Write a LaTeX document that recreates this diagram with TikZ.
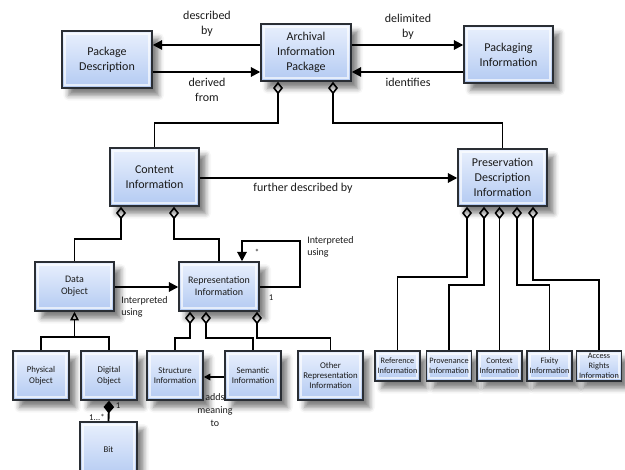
\documentclass[tikz,border=0pt]{standalone}
\usepackage{fontspec}
\setmainfont{Carlito}
\usetikzlibrary{arrows.meta,shadows.blur}

\definecolor{boxline}{HTML}{2A2E34}
\definecolor{boxtop}{HTML}{E9F0FD}
\definecolor{boxbot}{HTML}{B3CAF2}
\definecolor{txt}{HTML}{1A1A1A}

\tikzset{
  box/.style={draw=boxline, line width=1.1pt, top color=boxtop, bottom color=boxbot,
    align=center, inner sep=1pt, text=txt,
    blur shadow={shadow xshift=5pt, shadow yshift=-5.5pt, shadow blur radius=4pt, shadow opacity=50},
    path picture={\draw[white, opacity=.65, line width=1.6pt]
      ([shift={(2pt,2pt)}]path picture bounding box.south west) rectangle
      ([shift={(-2pt,-2pt)}]path picture bounding box.north east);}},
  bigtxt/.style={font=\fontsize{9}{11.25}\selectfont},
  midtxt/.style={font=\fontsize{7.5}{9}\selectfont},
  smalltxt/.style={font=\fontsize{6.6}{7.8}\selectfont},
  tinytxt/.style={font=\fontsize{6.2}{7.5}\selectfont},
  lbl/.style={text=txt, align=center, inner sep=0pt},
  conn/.style={draw=black, line width=1.4pt},
  arr/.style={conn, -{Triangle[length=7pt,width=7pt]}},
  smallarr/.style={conn, line width=1.1pt, -{Triangle[length=5pt,width=5pt]}},
  agg/.style={conn, {Diamond[open,length=9.5pt,width=7.5pt,line width=1.2pt]}-},
  comp/.style={conn, {Diamond[length=9.5pt,width=8pt]}-},
  gen/.style={conn, {Triangle[open,length=6.5pt,width=6.5pt,line width=1.1pt]}-}
}

\begin{document}
\begin{tikzpicture}[x=0.75pt,y=-0.75pt]
\useasboundingbox (0,0) rectangle (625,470);
\clip (0,0) rectangle (625,470);

% --- top row ---
\node[box,bigtxt,minimum width=67.5pt,minimum height=42.75pt] (PD) at (107,59.5) {Package\\Description};
\node[box,bigtxt,minimum width=67.5pt,minimum height=42.75pt] (AIP) at (306,52.5) {Archival\\Information\\Package};
\node[box,bigtxt,minimum width=66.75pt,minimum height=42.75pt] (PI) at (508.5,54.5) {Packaging\\Information};

% --- second row ---
\node[box,bigtxt,minimum width=66.75pt,minimum height=43.5pt] (CI) at (154.5,177) {Content\\Information};
\node[box,bigtxt,minimum width=66.75pt,minimum height=42.75pt] (PDI) at (502.5,177.5) {Preservation\\Description\\Information};

% --- third row ---
\node[box,midtxt,minimum width=59.25pt,minimum height=36.75pt] (DO) at (74.5,286.5) {Data\\Object};
\node[box,midtxt,minimum width=60pt,minimum height=36.75pt] (RI) at (219,286.5) {Representation\\Information};

% --- leaves under content information ---
\node[box,smalltxt,minimum width=42pt,minimum height=36.75pt] (PO) at (41,375.5) {Physical\\Object};
\node[box,smalltxt,minimum width=42pt,minimum height=36.75pt] (DgO) at (109,375.5) {Digital\\Object};
\node[box,smalltxt,minimum width=42pt,minimum height=36.75pt] (SI) at (175,375.5) {Structure\\Information};
\node[box,smalltxt,minimum width=42pt,minimum height=36.75pt] (SemI) at (253,375.5) {Semantic\\Information};
\node[box,smalltxt,minimum width=48.75pt,minimum height=36.75pt] (ORI) at (330.5,375.5) {Other\\Representation\\Information};
\node[box,smalltxt,minimum width=42.75pt,minimum height=42pt] (Bit) at (108.5,450) {Bit};

% --- leaves under preservation description information ---
\node[box,tinytxt,minimum width=33.75pt,minimum height=22.5pt] (Ref) at (397.5,366) {Reference\\Information};
\node[box,tinytxt,minimum width=33.75pt,minimum height=22.5pt] (Prov) at (449,366) {Provenance\\Information};
\node[box,tinytxt,minimum width=33.75pt,minimum height=22.5pt] (Ctx) at (499.5,366) {Context\\Information};
\node[box,tinytxt,minimum width=33.75pt,minimum height=22.5pt] (Fix) at (549.5,366) {Fixity\\Information};
\node[box,tinytxt,minimum width=33.75pt,minimum height=22.5pt] (Acc) at (599,366) {Access\\Rights\\Information};

% --- connectors between the package boxes ---
\draw[arr] (AIP.west |- 0,45) -- (PD.east |- 0,45);
\draw[arr] (PD.east |- 0,72) -- (AIP.west |- 0,72);
\draw[arr] (AIP.east |- 0,45) -- (PI.west |- 0,45);
\draw[arr] (PI.west |- 0,72) -- (AIP.east |- 0,72);

\node[lbl,bigtxt] (lDesc) at (207,24) {described\\by};
\node[lbl,bigtxt] (lDer) at (207,89.5) {derived\\from};
\node[lbl,bigtxt] (lDel) at (408,26.5) {delimited\\by};
\node[lbl,bigtxt] (lIdn) at (408,82) {identifies};

% --- AIP aggregation ---
\draw[agg] (AIP.south -| 278,0) -- (278,123) -| (CI.north);
\draw[agg] (AIP.south -| 333,0) -- (333,123) -| (PDI.north);

\draw[arr] (CI.east |- 0,178) -- (PDI.west |- 0,178);
\node[lbl,bigtxt] (lFur) at (303,188) {further described by};

% --- content information aggregation ---
\draw[agg] (CI.south -| 121,0) -- (121,239) -| (DO.north);
\draw[agg] (CI.south -| 174,0) -- (174,239) -| (RI.north);

\draw[arr] (DO.east |- 0,287) -- (RI.west |- 0,287);
\node[lbl,midtxt,anchor=west,align=left] (lInt1) at (121,307) {Interpreted\\using};

% self reference of representation information
\coordinate (loopA) at (300,287);
\coordinate (loopB) at (300,241);
\coordinate (loopC) at (242,241);
\draw[arr] (RI.east |- loopA) -- (loopA) -- (loopB) -- (loopC) -- (RI.north -| loopC);
\node[lbl,midtxt,anchor=west,align=left] (lInt2) at (307,247) {Interpreted\\using};
\node[lbl,smalltxt] (mStar) at (257,252) {*};
\node[lbl,smalltxt] (mOne) at (271,298) {1};

% --- generalisation of data object ---
\draw[gen] (DO.south) -- (DO.south |- 0,337);
\draw[conn] (PO.north) |- (DgO.north |- 0,337) -- (DgO.north);

% --- composition digital object / bit ---
\draw[comp] (DgO.south) -- (Bit.north);
\node[lbl,smalltxt] (mOne2) at (118,406) {1};
\node[lbl,smalltxt] (mMany) at (97,417) {1...*};

% --- representation information aggregation ---
\draw[agg] (RI.south -| 190,0) -- (190,338) -| (SI.north);
\draw[agg] (RI.south -| 206,0) -- (206,338) -| (SemI.north);
\draw[agg] (RI.south -| 257,0) -- (257,338) -| (ORI.north);

\draw[smallarr] (SemI.west |- 0,377) -- (SI.east |- 0,377);
\node[lbl,midtxt,font=\fontsize{7.5}{9.75}\selectfont] (lAdd) at (215,410) {adds\\meaning\\to};

% --- preservation description information aggregation ---
\draw[agg] (PDI.south -| 467,0) -- (467,277) -| (Ref.north);
\draw[agg] (PDI.south -| 484,0) -- (484,285) -| (Prov.north);
\draw[agg] (PDI.south -| Ctx.north) -- (Ctx.north);
\draw[agg] (PDI.south -| 517,0) -- (517,285) -| (Fix.north);
\draw[agg] (PDI.south -| 533,0) -- (533,280) -| (Acc.north);
\end{tikzpicture}
\end{document}
